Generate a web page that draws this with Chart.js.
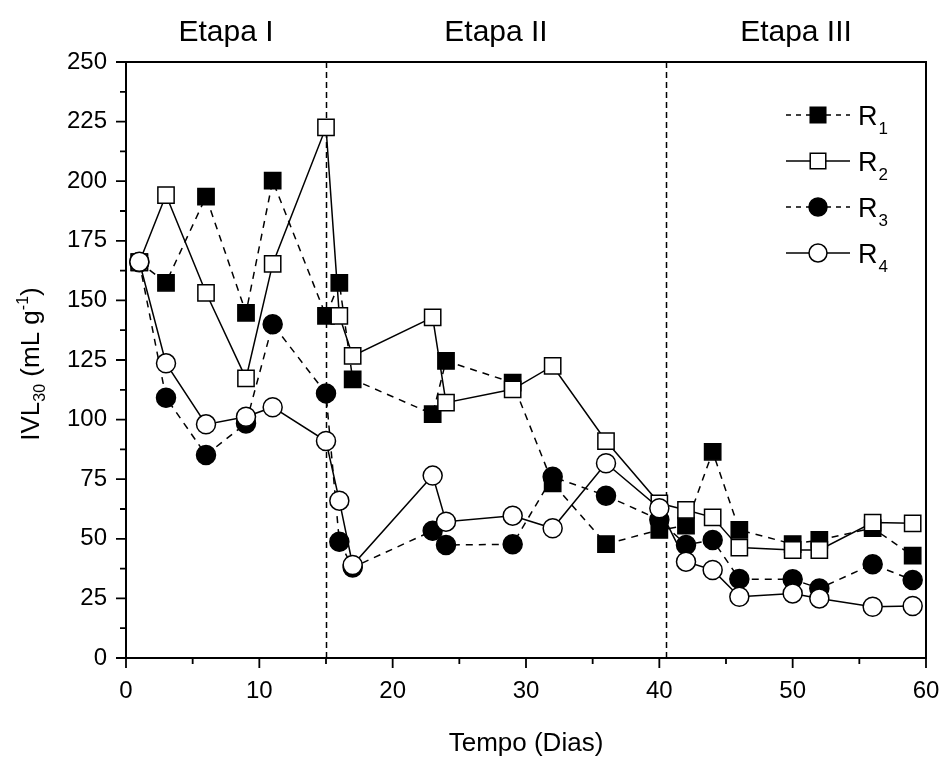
<!DOCTYPE html>
<html>
<head>
<meta charset="utf-8">
<script src="https://cdn.jsdelivr.net/npm/chart.js@4.4.0/dist/chart.umd.min.js"></script>
<style>
  html, body { margin: 0; padding: 0; background: #fff; }
  canvas { display: block; }
</style>
</head>
<body>
<canvas id="ivlChart" width="944" height="759"></canvas>
<script>
// dias de operação
const days = [1, 3, 6, 9, 11, 15, 16, 17, 23, 24, 29, 32, 36, 40, 42, 44, 46, 50, 52, 56, 59];

// IVL30 (mL/g) por reator
const r1 = [166, 157.4, 193.5, 144.8, 200.2, 143.5, 157.4, 116.9, 102.3, 124.6, 115.5, 73.3, 47.8, 53.7, 55.5, 86.5, 53.7, 47.8, 49.5, 54.5, 42.9];
const r2 = [166, 194.2, 153.2, 117.3, 165.3, 222.6, 143.5, 126.7, 142.9, 107.1, 112.7, 122.5, 91, 64.9, 62.1, 59, 46.3, 45.3, 45.3, 56.8, 56.5];
const r3 = [166, 109.2, 85.2, 98.4, 140, 111, 48.8, 38, 53.4, 47.4, 47.7, 76, 68.1, 58, 47.4, 49.5, 33.1, 33, 29.2, 39.3, 32.7];
const r4 = [166.2, 123.6, 98, 101.2, 105.2, 91, 66, 39, 76.5, 57.2, 59.7, 54.4, 81.7, 62.8, 40.4, 36.9, 25.7, 27.1, 25, 21.5, 21.8];

const seriesSub = ["1", "2", "3", "4"];
const stageNames = ["Etapa I", "Etapa II", "Etapa III"];
const stageBounds = [0, 15, 40.5, 60];

const FONT = "'Liberation Sans', Arial, sans-serif";
Chart.defaults.font.family = FONT;
Chart.defaults.color = "#000";

function toPoints(ys) {
  return days.map((d, i) => ({ x: d, y: ys[i] }));
}

function makeSeries(label, ys, filled, dashed, shape, order) {
  return {
    label: label,
    data: toPoints(ys),
    borderColor: "#000",
    borderWidth: 1.5,
    borderDash: dashed ? [7, 6] : [],
    pointStyle: shape,
    pointRadius: shape === "rect" ? 11.5 : 9.5,
    pointBackgroundColor: filled ? "#000" : "#fff",
    pointBorderColor: "#000",
    pointBorderWidth: 1.5,
    tension: 0,
    fill: false,
    clip: false,
    order: order
  };
}

const datasets = [
  makeSeries("R1", r1, true, true, "rect", 3),
  makeSeries("R2", r2, false, false, "rect", 2),
  makeSeries("R3", r3, true, true, "circle", 1),
  makeSeries("R4", r4, false, false, "circle", 0)
];

const framePlugin = {
  id: "framePlugin",
  beforeDatasetsDraw(chart) {
    const { ctx, chartArea: a, scales: { x } } = chart;
    ctx.save();
    ctx.strokeStyle = "#000";
    ctx.lineWidth = 1.5;
    ctx.setLineDash([6, 4]);
    stageBounds.slice(1, -1).forEach(v => {
      const px = Math.round(x.getPixelForValue(v)) + 0.5;
      ctx.beginPath();
      ctx.moveTo(px, a.top);
      ctx.lineTo(px, a.bottom);
      ctx.stroke();
    });
    ctx.restore();
  },
  afterDraw(chart) {
    const { ctx, chartArea: a, scales: { x, y } } = chart;
    ctx.save();

    // moldura
    ctx.strokeStyle = "#000";
    ctx.lineWidth = 2;
    ctx.setLineDash([]);
    ctx.strokeRect(a.left, a.top, a.right - a.left, a.bottom - a.top);

    // ticks para fora
    ctx.lineWidth = 1.8;
    ctx.beginPath();
    for (let v = 0; v <= 60; v += 5) {
      const px = x.getPixelForValue(v);
      const len = v % 10 === 0 ? 10 : 6;
      ctx.moveTo(px, a.bottom);
      ctx.lineTo(px, a.bottom + len);
    }
    for (let v = 0; v <= 250; v += 12.5) {
      const py = y.getPixelForValue(v);
      const len = v % 25 === 0 ? 10 : 6;
      ctx.moveTo(a.left, py);
      ctx.lineTo(a.left - len, py);
    }
    ctx.stroke();

    // etapas
    ctx.fillStyle = "#000";
    ctx.font = "30px " + FONT;
    ctx.textAlign = "center";
    ctx.textBaseline = "middle";
    stageNames.forEach((name, i) => {
      const mid = (stageBounds[i] + stageBounds[i + 1]) / 2;
      ctx.fillText(name, x.getPixelForValue(mid), 33);
    });

    // titulo eixo y com sub/sobrescrito
    const parts = [
      { t: "IVL", size: 26, dy: 0 },
      { t: "30", size: 16, dy: 6 },
      { t: " (mL g", size: 26, dy: 0 },
      { t: "-1", size: 16, dy: -11 },
      { t: ")", size: 26, dy: 0 }
    ];
    ctx.save();
    ctx.translate(39, (a.top + a.bottom) / 2 + 4);
    ctx.rotate(-Math.PI / 2);
    ctx.textAlign = "left";
    ctx.textBaseline = "alphabetic";
    let total = 0;
    parts.forEach(p => { ctx.font = p.size + "px " + FONT; p.w = ctx.measureText(p.t).width; total += p.w; });
    let cx = -total / 2;
    parts.forEach(p => {
      ctx.font = p.size + "px " + FONT;
      ctx.fillText(p.t, cx, p.dy);
      cx += p.w;
    });
    ctx.restore();

    // legenda
    chart.data.datasets.forEach((ds, i) => {
      const ly = 115 + 46 * i;
      ctx.strokeStyle = "#000";
      ctx.lineWidth = 1.5;
      ctx.setLineDash(ds.borderDash.length ? [5, 5] : []);
      ctx.beginPath();
      ctx.moveTo(786, ly);
      ctx.lineTo(850, ly);
      ctx.stroke();
      ctx.setLineDash([]);
      ctx.fillStyle = ds.pointBackgroundColor;
      ctx.strokeStyle = ds.pointBorderColor;
      Chart.helpers.drawPoint(ctx, {
        pointStyle: ds.pointStyle,
        radius: ds.pointStyle === "rect" ? 11 : 9,
        rotation: 0,
        borderWidth: ds.pointBorderWidth
      }, 818, ly);
      ctx.fillStyle = "#000";
      ctx.textAlign = "left";
      ctx.textBaseline = "alphabetic";
      ctx.font = "27px " + FONT;
      ctx.fillText("R", 858, ly + 10);
      const rw = ctx.measureText("R").width;
      ctx.font = "17px " + FONT;
      ctx.fillText(seriesSub[i], 858 + rw + 1, ly + 19);
    });

    ctx.restore();
  }
};

new Chart(document.getElementById("ivlChart"), {
  type: "line",
  data: { datasets },
  options: {
    responsive: false,
    animation: false,
    events: [],
    layout: { padding: { top: 62, right: 18, left: 0, bottom: 0 } },
    plugins: {
      legend: { display: false },
      tooltip: { enabled: false }
    },
    scales: {
      x: {
        type: "linear",
        min: 0,
        max: 60,
        afterFit: s => { s.height = 101; s.paddingLeft = 0; s.paddingRight = 0; },
        ticks: { stepSize: 10, padding: 19, font: { size: 24 }, color: "#000", maxRotation: 0 },
        grid: { display: false, drawTicks: false },
        border: { display: false },
        title: { display: true, text: "Tempo (Dias)", font: { size: 26 }, color: "#000", padding: { top: 0, bottom: 0 } }
      },
      y: {
        type: "linear",
        min: 0,
        max: 250,
        afterFit: s => { s.width = 126; s.paddingTop = 0; s.paddingBottom = 0; },
        ticks: { stepSize: 25, padding: 19, font: { size: 24 }, color: "#000" },
        grid: { display: false, drawTicks: false },
        border: { display: false }
      }
    }
  },
  plugins: [framePlugin]
});
</script>
</body>
</html>
